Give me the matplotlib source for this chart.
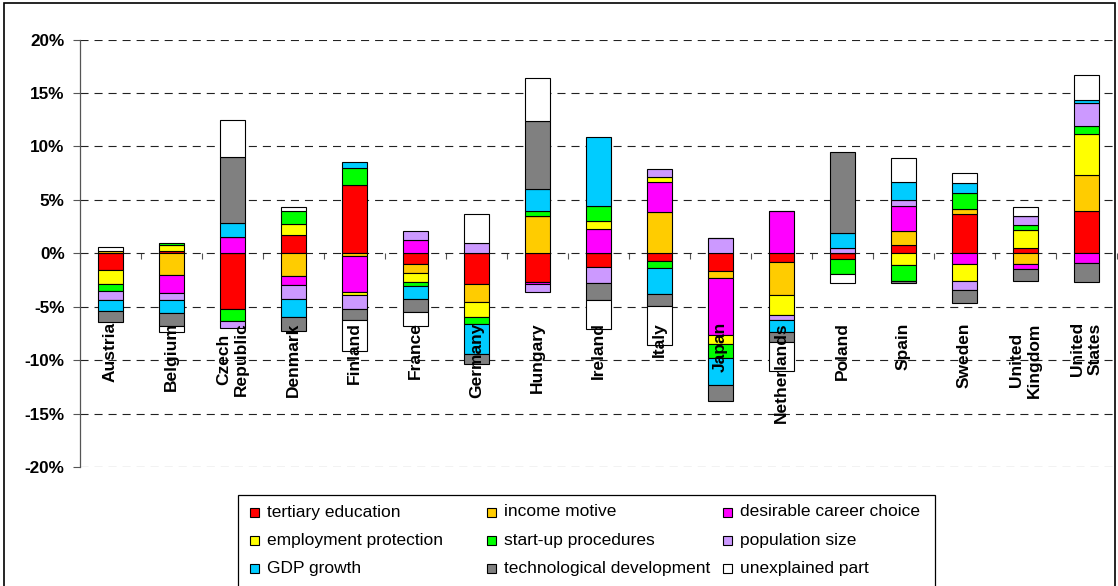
import numpy as np
import matplotlib
matplotlib.use("Agg")
import matplotlib.pyplot as plt
from matplotlib.patches import Rectangle
from matplotlib.ticker import FuncFormatter

plt.rcParams["font.family"] = ["Liberation Sans", "DejaVu Sans"]
plt.rcParams["lines.scale_dashes"] = False

countries = [
    "Austria", "Belgium", "Czech\nRepublic", "Denmark", "Finland", "France",
    "Germany", "Hungary", "Ireland", "Italy", "Japan", "Netherlands", "Poland",
    "Spain", "Sweden", "United\nKingdom", "United\nStates",
]

# contributions in percentage points, one list per factor
tertiary_education = [-1.6, 0.25, -5.2, 1.7, 6.35, -1.0, -2.85, -2.65, -1.25, -0.7, -1.7, -0.85, -0.55, 0.8, 3.65, 0.45, 3.95]
income_motive = [0.25, -2.0, 0.0, -2.15, -0.3, -0.85, -1.75, 3.5, 0.0, 3.9, -0.6, -3.1, 0.0, 1.25, 0.45, -1.0, 3.4]
career_choice = [0.0, -1.75, 1.55, -0.85, -3.35, 1.25, 0.0, -0.25, 2.25, 2.75, -5.35, 4.0, 0.0, 2.4, -1.0, -0.45, -0.95]
employment_protection = [-1.25, 0.5, 0.0, 1.0, -0.3, -0.85, -1.35, 0.0, 0.8, 0.5, -0.8, -1.85, 0.0, -1.1, -1.55, 1.75, 3.8]
startup_procedures = [-0.7, 0.25, -1.1, 1.25, 1.6, -0.4, -0.7, 0.45, 1.35, -0.7, -1.35, 0.0, -1.4, -1.45, 1.5, 0.45, 0.8]
population_size = [-0.85, -0.65, -0.7, -1.3, -1.3, 0.8, 1.0, -0.7, -1.5, 0.7, 1.45, -0.4, 0.45, 0.5, -0.85, 0.85, 2.1]
gdp_growth = [-1.05, -1.15, 1.25, -1.7, 0.55, -1.15, -2.75, 2.05, 6.45, -2.4, -2.5, -1.15, 1.45, 1.75, 0.95, 0.0, 0.25]
tech_development = [-0.95, -1.25, 6.2, -1.25, -1.0, -1.25, -1.0, 6.4, -1.6, -1.1, -1.55, -1.0, 7.55, -0.2, -1.25, -1.15, -1.7]
unexplained = [0.3, -0.55, 3.45, 0.35, -2.9, -1.35, 2.65, 4.0, -2.75, -3.65, 0.0, -2.7, -0.8, 2.25, 1.0, 0.8, 2.4]

series = [
    ("tertiary education", tertiary_education, "#FF0000"),
    ("income motive", income_motive, "#FFCC00"),
    ("desirable career choice", career_choice, "#FF00FF"),
    ("employment protection", employment_protection, "#FFFF00"),
    ("start-up procedures", startup_procedures, "#00FF00"),
    ("population size", population_size, "#CC99FF"),
    ("GDP growth", gdp_growth, "#00CCFF"),
    ("technological development", tech_development, "#808080"),
    ("unexplained part", unexplained, "#FFFFFF"),
]

W, H = 1118, 586
fig = plt.figure(figsize=(W / 100, H / 100), dpi=100)
ax = fig.add_axes([80 / W, 1 - 467 / H, 1037 / W, 427.5 / H])

x = np.arange(len(countries))
pos = np.zeros(len(countries))
neg = np.zeros(len(countries))
for name, vals, color in series:
    v = np.array(vals)
    bottom = np.where(v >= 0, pos, neg)
    ax.bar(x, v, bottom=bottom, width=0.42, color=color,
           edgecolor="black", linewidth=0.8, zorder=3)
    pos += np.where(v > 0, v, 0)
    neg += np.where(v < 0, v, 0)

ax.set_xlim(-0.5, len(countries) - 0.5)
ax.set_ylim(-20, 20)
ax.set_yticks(np.arange(-20, 21, 5))
ax.yaxis.set_major_formatter(FuncFormatter(lambda v, _: f"{v:.0f}%"))
ax.yaxis.grid(True, color="#222222", linestyle=(0, (5.8, 4.3)), linewidth=0.8, zorder=0)
ax.tick_params(axis="y", direction="out", length=5, width=0.8, color="#555555",
               pad=6, labelsize=12.3)
for lab in ax.get_yticklabels():
    lab.set_fontweight("bold")

# category separators hang from the zero line
ax.spines["bottom"].set_position(("data", 0))
ax.spines["bottom"].set_visible(False)
ax.set_xticks(np.arange(-0.5, len(countries), 1.0))
ax.set_xticklabels([])
ax.tick_params(axis="x", direction="out", length=4.5, width=0.8, color="#555555")

for s in ("top", "right"):
    ax.spines[s].set_visible(False)
ax.spines["left"].set_color("#555555")
ax.spines["left"].set_linewidth(0.9)

for xi, name in zip(x, countries):
    ax.text(xi, -6.45, name, rotation=90, ha="center", va="top",
            multialignment="center", fontsize=12.5, fontweight="bold", zorder=4)


def px(xp, yp):
    return xp / W, 1 - yp / H


# legend box, drawn in figure pixels
lx0, ly0, lx1, ly1 = 238, 495, 935, 600
fig.add_artist(Rectangle(px(lx0, ly1), (lx1 - lx0) / W, (ly1 - ly0) / H,
                         transform=fig.transFigure, facecolor="white",
                         edgecolor="black", linewidth=0.9))
col_x = [250, 487, 723]
row_y = [512, 540, 568]
for i, (name, vals, color) in enumerate(series):
    cx = col_x[i % 3]
    cy = row_y[i // 3]
    fig.add_artist(Rectangle(px(cx, cy + 4.5), 9 / W, 9 / H,
                             transform=fig.transFigure, facecolor=color,
                             edgecolor="black", linewidth=0.8))
    fig.text(*px(cx + 17, cy), name, ha="left", va="center", fontsize=12.5)

# outer chart frame
fig.add_artist(Rectangle(px(3.5, 600), (1114.5 - 3.5) / W, (600 - 3) / H,
                         transform=fig.transFigure, facecolor="none",
                         edgecolor="black", linewidth=1.2))

fig.savefig("out.png", dpi=100)
